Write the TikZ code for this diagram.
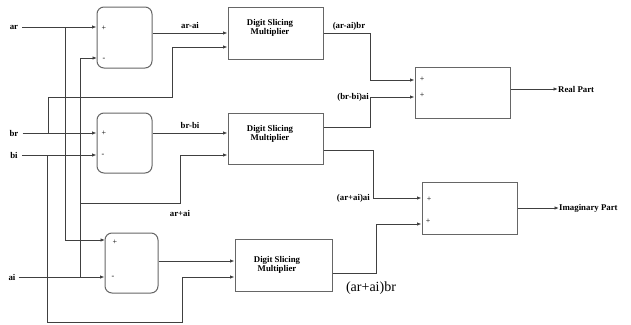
\documentclass[tikz,border=0pt]{standalone}
\usepackage{fontspec}
\setmainfont{Liberation Serif}
\usetikzlibrary{arrows.meta}

\begin{document}
\begin{tikzpicture}[x=1pt, y=-1pt, every node/.style={font=\fontsize{8.8}{9.5}\selectfont\bfseries, inner sep=0pt},
  wire/.style={draw=black!75, line width=1pt},
  arr/.style={wire, -{Latex[length=4.5pt,width=3.5pt]}},
  adder/.style={draw=black!60, line width=1pt, rounded corners=7pt},
  box/.style={draw=black!60, line width=1pt, align=center},
  sgn/.style={font=\fontsize{8}{8}\selectfont}]
\useasboundingbox (0,0) rectangle (631,324);
% blocks
\node[adder, minimum width=55pt, minimum height=61pt] (add1) at (124.5,37.5) {};
\node[adder, minimum width=55pt, minimum height=60pt] (add2) at (124.5,143) {};
\node[adder, minimum width=53pt, minimum height=60pt] (add3) at (131.5,263) {};
\node[box, minimum width=95pt, minimum height=52pt] (dsm1) at (275.5,33) {};
\node[box, minimum width=95pt, minimum height=51pt] (dsm2) at (275.5,138.5) {};
\node[box, minimum width=97pt, minimum height=52pt] (dsm3) at (283.5,265) {};
\node[box, minimum width=95pt, minimum height=51pt] (sumre) at (462.5,92.5) {};
\node[box, minimum width=95pt, minimum height=52pt] (sumim) at (469.5,208) {};
\node[align=center] at (270,28) {Digit Slicing\\Multiplier};
\node[align=center] at (270,134) {Digit Slicing\\Multiplier};
\node[align=center] at (277,265) {Digit Slicing\\Multiplier};
% signs
\node[sgn] at (104,28) {+};  \node[sgn] at (104,59) {-};
\node[sgn] at (104,133) {+}; \node[sgn] at (103,155) {-};
\node[sgn] at (115,242) {+}; \node[sgn] at (113,277) {-};
\node[sgn] at (422,79) {+};  \node[sgn] at (422,95) {+};
\node[sgn] at (429,199) {+}; \node[sgn] at (428,221) {+};
% inputs
\node (ar) at (14,27) {ar};
\node (br) at (14,133) {br};
\node (bi) at (14,155) {bi};
\node (ai) at (12,277) {ai};
\coordinate (jar) at (65,27);
\coordinate (jai) at (80,277);
\coordinate (jbr) at (48,133);
\coordinate (jbi) at (47,155);
\draw[arr] ([xshift=4pt]ar.east) -- (ar -| add1.west);
\draw[arr] ([xshift=4pt]br.east) -- (br -| add2.west);
\draw[arr] ([xshift=4pt]bi.east) -- (bi -| add2.west);
\draw[arr] ([xshift=3pt]ai.east) -- (ai -| add3.west);
\draw[arr] (jar) |- (105,240);
\draw[arr] (jai) |- (97,58);
\draw[arr] (80,203) -| (180,155) -- (dsm2.west |- 0,155);
\draw[arr] (jbr) |- (172,97) |- (dsm1.west |- 0,47);
\draw[arr] (jbi) |- (182,322) |- (dsm3.west |- 0,277);
\node at (180,213) {ar+ai};
% adder outputs
\draw[arr] (add1.east |- 0,33) -- node[above=4pt] {ar-ai} (dsm1.west |- 0,33);
\draw[arr] (add2.east |- 0,133) -- node[above=4pt] {br-bi} (dsm2.west |- 0,133);
\draw[arr] (add3.east |- 0,261) -- (dsm3.west |- 0,261);
% multiplier outputs
\draw[arr] (dsm1.east |- 0,33) -| (370,80) -- (sumre.west |- 0,80);
\node at (349,26) {(ar-ai)br};
\draw[arr] (dsm2.east |- 0,127) -| (370,97) -- (sumre.west |- 0,97);
\node[left=1pt] at (370,97) {(br-bi)ai};
\draw[arr] (dsm2.east |- 0,150) -| (373,198) -- (sumim.west |- 0,198);
\node[left=3pt] at (373,198) {(ar+ai)ai};
\draw[arr] (dsm3.east |- 0,273) -| (376,224) -- (sumim.west |- 0,224);
\node[font=\fontsize{14}{15}\selectfont] at (371,288) {(ar+ai)br};
% results
\node[anchor=west] (re) at (558,89) {Real Part};
\node[anchor=west] (im) at (559,208) {Imaginary Part};
\draw[arr] (sumre.east |- re) -- (re.west);
\draw[arr] (sumim.east |- im) -- (im.west);
\end{tikzpicture}
\end{document}
